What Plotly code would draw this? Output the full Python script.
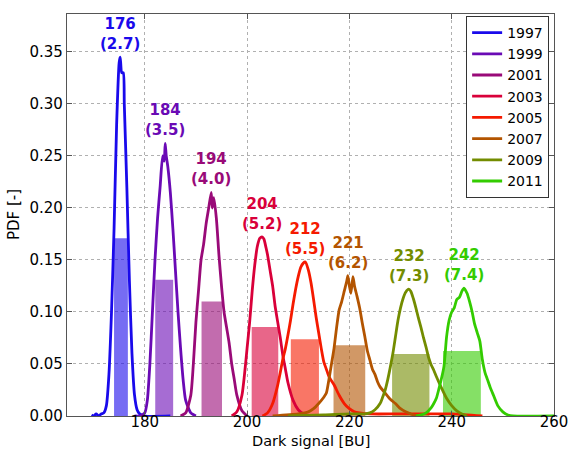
import plotly.graph_objects as go

years = ["1997", "1999", "2001", "2003", "2005", "2007", "2009", "2011"]
colors = ["#1a0aeb", "#6a0ab5", "#990a78", "#d9003a", "#f51a00", "#b35400", "#738c00", "#33cc00"]
mean_labels = [176, 184, 194, 204, 212, 221, 232, 242]
sigmas = [2.7, 3.5, 4.0, 5.2, 5.5, 6.2, 7.3, 7.4]
bar_centers = [175.35, 183.8, 193.1, 203.5, 211.3, 220.0, 232.0, 242.0]
bar_heights = [0.171, 0.131, 0.110, 0.0856, 0.0737, 0.068, 0.0596, 0.0625]

x1997 = [169.6, 170.0, 170.5, 171.0, 171.5, 172.0, 172.5, 173.0, 173.5, 174.0, 174.5, 175.0, 175.2, 175.5, 175.8, 176.0, 176.5, 177.0, 177.5, 178.0, 178.5, 179.0, 180.0, 185.0]
y1997 = [0.001, 0.0, 0.002, 0.0, 0.002, 0.003, 0.01, 0.04, 0.10, 0.18, 0.28, 0.34, 0.345, 0.33, 0.33, 0.30, 0.22, 0.13, 0.06, 0.02, 0.006, 0.002, 0.0, 0.0]

x1999 = [178.0, 179.0, 180.0, 180.5, 181.0, 181.5, 182.0, 182.5, 183.0, 183.5, 183.8, 184.0, 184.2, 184.5, 185.0, 185.5, 186.0, 186.5, 187.0, 187.5, 188.0, 189.0, 190.0]
y1999 = [0.0, 0.0, 0.003, 0.015, 0.05, 0.10, 0.15, 0.19, 0.22, 0.25, 0.245, 0.262, 0.25, 0.24, 0.215, 0.18, 0.14, 0.10, 0.065, 0.035, 0.015, 0.003, 0.0]

x2001 = [187.0, 188.0, 189.0, 189.5, 190.0, 190.5, 191.0, 191.5, 192.0, 192.5, 193.0, 193.2, 193.5, 194.0, 194.5, 195.0, 195.5, 196.0, 196.5, 197.0, 197.5, 198.0, 199.0, 200.0]
y2001 = [0.0, 0.003, 0.02, 0.05, 0.09, 0.12, 0.15, 0.165, 0.185, 0.20, 0.215, 0.20, 0.21, 0.19, 0.155, 0.125, 0.10, 0.085, 0.07, 0.05, 0.035, 0.02, 0.005, 0.0]

x2003 = [197.0, 198.0, 199.0, 199.5, 200.0, 200.5, 201.0, 201.5, 202.0, 202.5, 203.0, 203.3, 203.7, 204.0, 204.5, 205.0, 205.5, 206.0, 206.5, 207.0, 207.5, 208.0, 209.0, 210.0, 211.0, 212.0]
y2003 = [0.0, 0.004, 0.02, 0.04, 0.065, 0.09, 0.12, 0.145, 0.163, 0.171, 0.172, 0.170, 0.162, 0.155, 0.14, 0.125, 0.105, 0.09, 0.075, 0.058, 0.045, 0.032, 0.015, 0.006, 0.002, 0.0]

x2005 = [203.0, 204.0, 205.0, 206.0, 206.5, 207.0, 207.5, 208.0, 208.5, 209.0, 209.5, 210.0, 210.5, 211.0, 211.4, 212.0, 212.5, 213.0, 213.5, 214.0, 214.5, 215.0, 215.5, 216.0, 217.0, 218.0, 219.0, 220.0, 221.0, 222.0, 224.0, 230.0, 240.0, 246.0]
y2005 = [0.0, 0.003, 0.012, 0.03, 0.042, 0.055, 0.065, 0.078, 0.092, 0.108, 0.122, 0.134, 0.143, 0.147, 0.148, 0.14, 0.128, 0.112, 0.095, 0.08, 0.065, 0.052, 0.045, 0.038, 0.03, 0.02, 0.012, 0.007, 0.004, 0.003, 0.002, 0.002, 0.002, 0.0]

x2007 = [205.0, 210.0, 212.0, 213.0, 214.0, 215.0, 215.5, 216.0, 216.5, 217.0, 217.5, 218.0, 218.5, 219.0, 219.5, 219.7, 220.0, 220.3, 220.7, 221.0, 221.5, 222.0, 222.5, 223.0, 223.5, 224.0, 224.5, 225.0, 225.5, 226.0, 227.0, 228.0, 229.0, 230.0, 231.0, 232.0, 233.0]
y2007 = [0.0, 0.002, 0.004, 0.007, 0.012, 0.018, 0.022, 0.035, 0.05, 0.065, 0.085, 0.102, 0.11, 0.12, 0.13, 0.135, 0.125, 0.118, 0.134, 0.125, 0.115, 0.104, 0.09, 0.077, 0.063, 0.054, 0.045, 0.04, 0.033, 0.028, 0.022, 0.016, 0.012, 0.007, 0.004, 0.002, 0.0]

x2009 = [208.0, 215.0, 220.0, 222.0, 223.0, 224.0, 225.0, 226.0, 226.5, 227.0, 227.5, 228.0, 228.5, 229.0, 229.5, 230.0, 230.5, 231.0, 231.6, 232.0, 232.5, 233.0, 233.5, 234.0, 234.5, 235.0, 235.5, 236.0, 236.5, 237.0, 238.0, 239.0, 240.0, 241.0, 242.0, 243.0]
y2009 = [0.0, 0.001, 0.002, 0.002, 0.002, 0.003, 0.006, 0.012, 0.018, 0.025, 0.035, 0.047, 0.06, 0.076, 0.092, 0.104, 0.113, 0.119, 0.122, 0.12, 0.113, 0.104, 0.094, 0.085, 0.075, 0.066, 0.056, 0.049, 0.044, 0.038, 0.027, 0.017, 0.01, 0.005, 0.002, 0.0]

x2011 = [233.0, 234.0, 235.0, 236.0, 236.5, 237.0, 237.5, 238.0, 238.5, 239.0, 239.5, 240.0, 240.5, 241.0, 241.5, 242.0, 242.4, 243.0, 243.5, 244.0, 244.5, 245.0, 245.5, 246.0, 246.5, 247.0, 247.5, 248.0, 249.0, 250.0, 251.0, 252.0, 260.0]
y2011 = [0.0, 0.001, 0.003, 0.008, 0.012, 0.017, 0.026, 0.036, 0.048, 0.076, 0.092, 0.1, 0.104, 0.112, 0.114, 0.12, 0.123, 0.118, 0.11, 0.1, 0.088, 0.08, 0.072, 0.054, 0.042, 0.035, 0.028, 0.022, 0.01, 0.004, 0.001, 0.0, 0.0]

curves_x = [x1997, x1999, x2001, x2003, x2005, x2007, x2009, x2011]
curves_y = [y1997, y1999, y2001, y2003, y2005, y2007, y2009, y2011]

FONT = "DejaVu Sans"
fig = go.Figure()

fig.add_trace(go.Bar(
    x=bar_centers, y=bar_heights, width=sigmas,
    marker=dict(color=colors, opacity=0.6, line=dict(width=0)),
    showlegend=False, hoverinfo="skip",
))

for yr, c, xs, ys in zip(years, colors, curves_x, curves_y):
    fig.add_trace(go.Scatter(x=xs, y=ys, mode="lines", name=yr,
                             line=dict(color=c, width=2.8, shape="spline", smoothing=0.6)))

for m, s, c, xs, ys in zip(mean_labels, sigmas, colors, curves_x, curves_y):
    i = max(range(len(ys)), key=lambda k: ys[k])
    fig.add_annotation(x=xs[i], y=ys[i], text=f"<b>{m}<br>({s:.1f})</b>",
                       showarrow=False, yanchor="bottom", xanchor="center", yshift=2,
                       font=dict(family=FONT, size=15, color=c))

# axis titles
fig.add_annotation(xref="paper", yref="paper", x=0.5, y=0, yshift=-15, yanchor="top",
                   text="Dark signal [BU]", showarrow=False,
                   font=dict(family=FONT, size=14.5, color="black"))
fig.add_annotation(xref="paper", yref="paper", x=0, xshift=-42, y=0.5, xanchor="right",
                   text="PDF [-]", textangle=-90, showarrow=False,
                   font=dict(family=FONT, size=15, color="black"))

axis_common = dict(showline=True, linecolor="#555555", linewidth=1.2, mirror="ticks",
                   ticks="inside", ticklen=5, tickcolor="#555555",
                   showgrid=True, gridcolor="#b0b0b0", griddash="dot", gridwidth=1,
                   zeroline=False, automargin=False,
                   tickfont=dict(family=FONT, size=15, color="black"))

fig.update_xaxes(range=[164.8, 260], tickvals=[180, 200, 220, 240, 260],
                 ticklabelstandoff=-8, **axis_common)
fig.update_yaxes(range=[0, 0.3865], tickvals=[0, 0.05, 0.10, 0.15, 0.20, 0.25, 0.30, 0.35],
                 tickformat=".2f", **axis_common)

fig.update_layout(
    width=569, height=449,
    margin=dict(l=67, r=15, t=14, b=33, autoexpand=False),
    paper_bgcolor="white", plot_bgcolor="white",
    barmode="overlay",
    font=dict(family=FONT, size=14, color="black"),
    legend=dict(x=0.99, y=0.995, xanchor="right", yanchor="top",
                bgcolor="white", bordercolor="#333333", borderwidth=1,
                font=dict(family=FONT, size=14, color="black"),
                itemwidth=30, tracegroupgap=0),
)

fig.write_html("out.html")
